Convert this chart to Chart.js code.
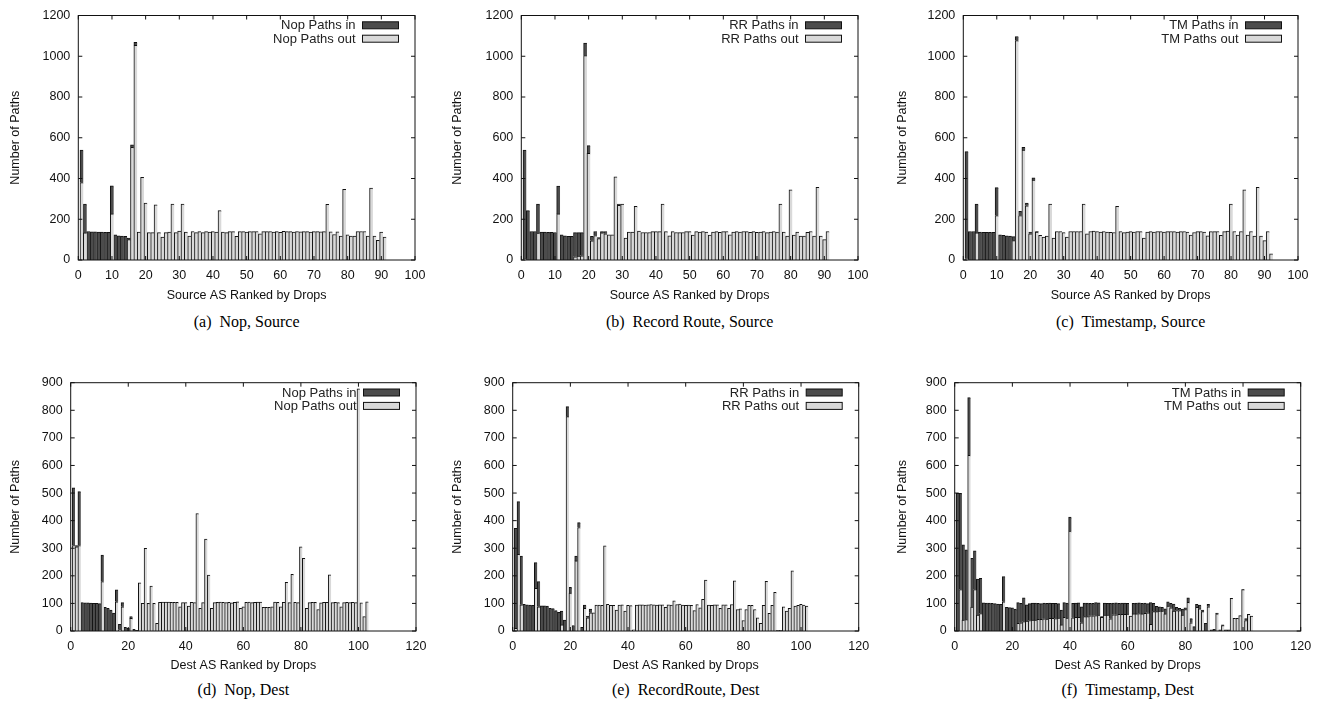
<!DOCTYPE html>
<html><head><meta charset="utf-8">
<script src="https://cdn.jsdelivr.net/npm/chart.js@4/dist/chart.umd.min.js"></script>
<style>
html,body{margin:0;padding:0;background:#fff;}
body{width:1320px;height:710px;position:relative;overflow:hidden;}
canvas{position:absolute;}
.cap{position:absolute;font-family:"Liberation Serif","Times New Roman",serif;font-size:16px;color:#000;white-space:pre;transform:translate(-50%,-50%);}
</style></head><body>
<script>
// ---------- tick labels ----------
const topXTicks = [0,10,20,30,40,50,60,70,80,90,100];
const topYTicks = [0,200,400,600,800,1000,1200];
const botXTicks = [0,20,40,60,80,100,120];
const botYTicks = [0,100,200,300,400,500,600,700,800,900];

// ---------- series (index i = AS rank i+1) ----------
// "in" arrays list ranks 1..n only; later ranks have no in-paths.
const nopSrcOut = [380,133,0,0,0,0,0,0,0,226,0,0,0,0,100,553,1053,
  137,406,279,134,134,271,134,113,134,137, 274,134,142,274,137,118,140,134,139,134,
  139,137,139,137,242,137,134,139,139,116, 139,139,137,139,139,140,128,139,139,140,
  137,139,136,141,139,139,137,140,138,139, 139,137,139,139,138,139,273,138,125,138,
  118,347,124,117,117,140,140,140,117,353, 118,97,137,113];
const nopSrcIn = [160,141,140,138,138,137,137,136,136,138,124,119,118,116,8,12,15];

const rrSrcOut = [8,0,0,0,132,0,0,0,0,0,226,0,0,0,0,16,19,21,1003,524,94,120,105,133,129,
  124,124,408,268,274,108,137,137,263,142,135,135,135,139,139,139,274,139,119,139,135,134,135,139,139,122,139,
  137,139,137,122,137,139,136,139,140,124,137,139,137,140,139,136,139,136,137,139,134,137,139,137,274,
  137,117,344,122,137,117,117,136,140,117,357,117,100,140];
const rrSrcIn = [532,242,140,140,142,137,137,136,136,135,137,124,119,116,116,118,115,113,62,37,22,20,5,7,11,0,0,0,7];

const tmSrcOut = [6,0,0,133,0,0,0,0,0,218,0,0,0,0,95,1077,218,540,266,129,392,137,
  121,113,118,274,108,140,140,134,113,140, 140,140,140,274,129,140,142,140,137,140,
  137,136,135,263,140,134,137,139,137,140, 139,108,137,139,137,140,139,137,139,140,
  139,137,139,140,137,122,135,139,139,137, 119,139,139,140,121,139,142,274,140,122,
  140,344,122,140,117,357,118,95,140,30];
const tmSrcIn = [526,140,140,141,137,136,136,136,136,137,124,121,119,117,20,20,21,13,13,8,11,3];

const nopDstOut = [310,305,310,0,0,0,0,0,0,0,179,0,0,0,0,106,5,88,0,0,46,0,0,
  175,100,300,100,163,100,28,104,105,105, 105,104,104,104,88,103,103,90,104,103,
  426,82,103,333,203,82,103,104,105,104, 103,104,102,104,106,82,88,104,105,103,
  104,105,105,86,86,86,88,105,104,88, 104,176,103,205,104,103,305,263,82,103,
  104,104,78,102,104,104,204,103,104,103, 88,103,104,103,104,103,878,102,52,106];
const nopDstIn = [209,5,195,103,102,102,101,100,100,99,96,86,82,76,65,43,19,15,13,10,6,6,2];

const rrDstOut = [10,278,95,0,0,0,0,155,88,0,0,0,0,0,0,0,22,0,777,137,0,254,375,0,82,48,66,
  66,94,94,93,309,97,93,93,76,94, 95,72,93,92,4,94,95,95,94,95,
  96,95,94,95,95,86,95,94,109,96, 98,94,93,94,93,74,96,84,115,185,
  94,93,95,95,82,95,95,82,96,182, 78,80,38,78,93,93,78,48,28,93,
  180,64,93,140,2,2,88,72,82,218, 90,93,97,94,90];
const rrDstIn = [362,191,177,97,95,94,93,93,91,91,91,90,82,81,74,68,50,40,36,21,20,18,18,13,12,6,13];

const tmDstOut = [0,150,40,41,637,87,150,58,63,0, 0,0,0,0,0,0,106,0,0,0,
  0,28,30,34,36,38,40,40,42,42, 44,43,46,46,45,47,22,50,47,362,
  48,50,50,30,52,52,55,55,56,58, 50,58,58,44,59,59,60,60,60,61,
  54,62,62,63,62,64,66,24,70,70, 72,72,62,90,84,72,74,74,58,78,
  104,30,0,86,80,70,0,88,0,0, 62,0,20,0,0,118,46,46,56,150, 38,60,54];
const tmDstIn = [499,349,272,253,209,176,141,130,128,102, 101,101,100,99,98,97,91,86,85,84,
  79,75,70,86,59,61,61,61,58,57, 57,57,55,54,55,52,54,53,54,51,
  52,51,52,58,49,49,45,45,47,44, 2,43,42,56,42,43,40,41,41,39,
  0,38,39,39,38,37,33,79,30,19, 16,14,18,16,16,26,12,8,21,6,
  16,15,16,11,14,6,28,9,4,6, 3,4,2,4,4,0,0,0,0,1, 7,0,0];

// ---------- styling ----------
const DARK = '#4c4c4c', LIGHT = '#d9d9d9', EDGE = '#111111', INK = '#111111';
const FAMILY = '"Liberation Sans", Arial, Helvetica, sans-serif';
const FONT = {family: FAMILY, size: 12.5};

const panels = [
  {prefix:'Nop', xTitle:'Source AS Ranked by Drops', cap:'(a)  Nop, Source', inV:nopSrcIn, outV:nopSrcOut, xT:topXTicks, yT:topYTicks, box:[0,0,440,310], area:[78.3,415,12.7,260], capY:322},
  {prefix:'RR', xTitle:'Source AS Ranked by Drops', cap:'(b)  Record Route, Source', inV:rrSrcIn, outV:rrSrcOut, xT:topXTicks, yT:topYTicks, box:[442,0,440,310], area:[521.3,858,12.7,260], capY:322},
  {prefix:'TM', xTitle:'Source AS Ranked by Drops', cap:'(c)  Timestamp, Source', inV:tmSrcIn, outV:tmSrcOut, xT:topXTicks, yT:topYTicks, box:[887,0,433,310], area:[963.3,1298,12.7,260], capY:322},
  {prefix:'Nop', xTitle:'Dest AS Ranked by Drops', cap:'(d)  Nop, Dest', inV:nopDstIn, outV:nopDstOut, xT:botXTicks, yT:botYTicks, box:[0,360,440,320], area:[70.7,416,382.7,631], capY:690},
  {prefix:'RR', xTitle:'Dest AS Ranked by Drops', cap:'(e)  RecordRoute, Dest', inV:rrDstIn, outV:rrDstOut, xT:botXTicks, yT:botYTicks, box:[442,360,440,320], area:[512.7,858.7,382.7,631], capY:690},
  {prefix:'TM', xTitle:'Dest AS Ranked by Drops', cap:'(f)  Timestamp, Dest', inV:tmDstIn, outV:tmDstOut, xT:botXTicks, yT:botYTicks, box:[887,360,433,320], area:[954.7,1300.7,382.7,631], capY:690}
];

const insideLegend = {
  id:'insideLegend',
  beforeDatasetsDraw(chart){
    const {ctx, chartArea:a} = chart;
    const items = [chart.data.datasets[1], chart.data.datasets[0]];
    ctx.save();
    ctx.font = '13px ' + FAMILY;
    ctx.textAlign = 'right'; ctx.textBaseline = 'middle';
    items.forEach((ds, i) => {
      const cy = a.top + 9.8 + i * 13.4;
      const bx = a.right - 16.5 - 36;
      ctx.fillStyle = ds.backgroundColor;
      ctx.fillRect(bx, cy - 3.5, 36, 7);
      ctx.strokeStyle = EDGE; ctx.lineWidth = 1;
      ctx.strokeRect(bx, cy - 3.5, 36, 7);
      ctx.fillStyle = '#222';
      ctx.fillText(ds.label, bx - 7, cy + 0.5);
    });
    ctx.restore();
  }
};

const frame = {
  id:'frame',
  afterDatasetsDraw(chart){
    const {ctx, chartArea:a, scales:{x, y}} = chart;
    ctx.save();
    ctx.strokeStyle = EDGE; ctx.lineWidth = 1;
    ctx.strokeRect(a.left, a.top, a.right - a.left, a.bottom - a.top);
    ctx.beginPath();
    x.ticks.forEach(t => {
      const px = x.getPixelForValue(t.value);
      ctx.moveTo(px, a.bottom); ctx.lineTo(px, a.bottom - 4);
      ctx.moveTo(px, a.top); ctx.lineTo(px, a.top + 4);
    });
    y.ticks.forEach(t => {
      const py = y.getPixelForValue(t.value);
      ctx.moveTo(a.left, py); ctx.lineTo(a.left + 4, py);
      ctx.moveTo(a.right, py); ctx.lineTo(a.right - 4, py);
    });
    ctx.stroke();
    ctx.restore();
  }
};

panels.forEach(p => {
  const [L, T, W, H] = p.box;
  const [aL, aR, aT, aB] = p.area;
  const cv = document.createElement('canvas');
  cv.width = W; cv.height = H;
  cv.style.left = L + 'px'; cv.style.top = T + 'px';
  cv.style.width = W + 'px'; cv.style.height = H + 'px';
  document.body.appendChild(cv);

  const cap = document.createElement('div');
  cap.className = 'cap';
  cap.textContent = p.cap;
  cap.style.left = ((aL + aR) / 2) + 'px';
  cap.style.top = p.capY + 'px';
  document.body.appendChild(cap);

  const bw = {top:1, left:1, right:0, bottom:0};
  new Chart(cv, {
    type:'bar',
    data:{datasets:[
      {label:p.prefix + ' Paths out', data:p.outV.map((v, i) => ({x:i + 1, y:v})),
       backgroundColor:LIGHT, borderColor:EDGE, borderWidth:bw, borderSkipped:'start'},
      {label:p.prefix + ' Paths in', data:p.inV.map((v, i) => ({x:i + 1, y:v})),
       backgroundColor:DARK, borderColor:EDGE, borderWidth:bw, borderSkipped:'start'}
    ]},
    options:{
      responsive:false, animation:false, devicePixelRatio:1,
      layout:{padding:{left:0, top:aT - T, right:L + W - aR, bottom:0}},
      plugins:{legend:{display:false}, tooltip:{enabled:false}},
      datasets:{bar:{barPercentage:1, categoryPercentage:1}},
      scales:{
        x:{type:'linear', offset:false, min:p.xT[0], max:p.xT[p.xT.length - 1], stacked:true,
           grid:{display:false, drawTicks:false, offset:false}, border:{display:false},
           afterBuildTicks:s => { s.ticks = p.xT.map(v => ({value:v})); },
           afterFit:s => { s.height = T + H - aB; },
           ticks:{padding:8, font:FONT, color:INK, maxRotation:0, autoSkip:false, callback:v => String(v)},
           title:{display:true, text:p.xTitle, font:FONT, color:INK, padding:{top:0, bottom:6.5}}},
        y:{type:'linear', min:p.yT[0], max:p.yT[p.yT.length - 1], stacked:true,
           grid:{display:false, drawTicks:false}, border:{display:false},
           afterBuildTicks:s => { s.ticks = p.yT.map(v => ({value:v})); },
           afterFit:s => { s.width = aL - L; },
           ticks:{padding:8, font:FONT, color:INK, autoSkip:false, callback:v => String(v)},
           title:{display:true, text:'Number of Paths', font:FONT, color:INK, padding:{top:8.5, bottom:0}}}
      }
    },
    plugins:[insideLegend, frame]
  });
});
</script>
</body></html>
